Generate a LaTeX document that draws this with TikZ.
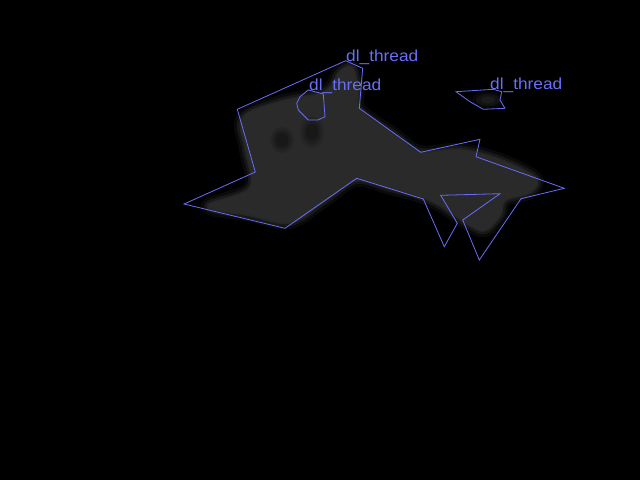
\documentclass[tikz,border=0pt]{standalone}
\usepackage{fontspec}
\setmainfont{Liberation Sans}
\definecolor{seg}{RGB}{105,110,250}
\definecolor{blob}{RGB}{42,42,42}
\begin{document}
\begin{tikzpicture}[x=1pt,y=-1pt,
  outline/.style={draw=seg,line width=0.8pt,line join=miter},
  lbl/.style={text=seg,font=\fontsize{16}{16}\selectfont,inner sep=0pt,anchor=base west,xscale=1.08},
  blobfill/.style={fill=blob}]
\fill[black] (0,0) rectangle (640,480);
\useasboundingbox (0,0) rectangle (640,480);
% soft gray blob (layered for softness)
\foreach \w/\o in {14/0.25,8/0.45,3/0.8}{
\draw[blob,line width=\w pt,opacity=\o,line join=round] plot[smooth cycle,tension=0.6] coordinates{
 (208,206) (250,188) (246,150) (243,118) (280,102) (325,92) (340,72) (352,68) (358,90) (360,110)
 (395,135) (420,152) (460,150) (500,160) (535,178) (530,192) (505,200) (500,215) (485,230) (470,225)
 (455,215) (440,205) (420,196) (390,188) (356,180) (325,200) (290,222) (250,215)};
}
\fill[blob] plot[smooth cycle,tension=0.6] coordinates{
 (208,206) (250,188) (246,150) (243,118) (280,102) (325,92) (340,72) (352,68) (358,90) (360,110)
 (395,135) (420,152) (460,150) (500,160) (535,178) (530,192) (505,200) (500,215) (485,230) (470,225)
 (455,215) (440,205) (420,196) (390,188) (356,180) (325,200) (290,222) (250,215)};
% darker holes (soft)
\foreach \r/\o in {1.3/0.12,1.0/0.15,0.7/0.2}{
\fill[black,opacity=\o] (282,140) ellipse ({9*\r} and {10*\r});
\fill[black,opacity=\o] (312,132) ellipse ({9*\r} and {12*\r});
}
\foreach \r/\o in {1.4/0.2,1.0/0.3,0.6/0.4}{
\fill[blob,opacity=\o] (488,100) ellipse ({12*\r} and {6*\r});
}
% outlines
\draw[outline] (345.7,60.7) coordinate (p1) -- (362.7,68.3) -- (359.3,108.3) -- (420.7,152.3) -- (480,139.3) -- (476,156.7)
  -- (564.3,188.3) -- (521,198.7) -- (479.3,260) -- (462.7,220) -- (500,193.7) -- (440.7,195.3) -- (457.3,223.3)
  -- (444.3,246.7) -- (423.3,199) -- (356.7,178.3) -- (285,228.3) -- (184,204) -- (255.3,172) -- (237.3,109.3) -- cycle;
\draw[outline] (308.3,90) coordinate (p2) -- (323.3,94) -- (325,116.7) -- (318,120) -- (308.3,120) -- (298.3,110)
  -- (296.7,103.3) -- (300,96.7) -- cycle;
\draw[outline] (456,91.7) coordinate (p3) -- (493.3,89.3) -- (501.7,91.7) -- (500,100) -- (505,108.3) -- (483.3,109.3)
  -- (470,101.7) -- cycle;
% labels
\node[lbl] (l1) at (346,61) {dl\_thread};
\node[lbl] (l2) at (309,90) {dl\_thread};
\node[lbl] (l3) at (490,89) {dl\_thread};
\end{tikzpicture}
\end{document}
